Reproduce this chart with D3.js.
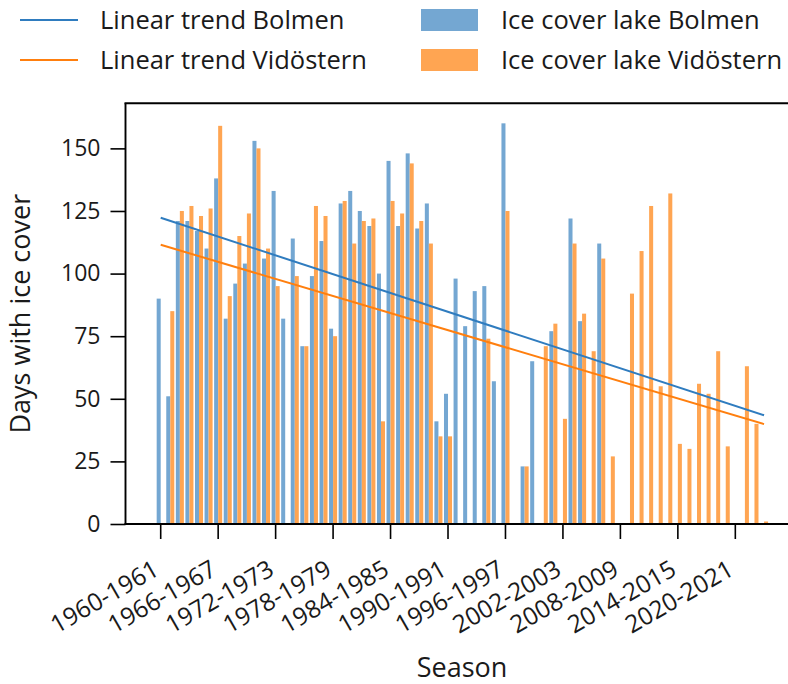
<!DOCTYPE html>
<html>
<head>
<meta charset="utf-8">
<script src="https://cdn.jsdelivr.net/npm/d3@7"></script>
<style>
  html, body { margin: 0; padding: 0; background: #fff; }
  svg { display: block; }
  text { font-family: "Open Sans", "Noto Sans", sans-serif; fill: #1a1a1a; }
</style>
</head>
<body>
<svg id="chart" width="788" height="684"></svg>
<script>
// Ice-cover seasons, 1960-1961 through 2023-2024
const seasons = d3.range(1960, 2024).map(y => `${y}-${y + 1}`);

// Days with ice cover per season (null = no observation)
const bolmen = [
  90, 51, 121, 121, 117, 110, 138, 82, 96, 104,
  153, 106, 133, 82, 114, 71, 99, 113, 78, 128,
  133, 125, 119, 100, 145, 119, 148, 118, 128, 41,
  52, 98, 79, 93, 95, 57, 160, null, 23, 65,
  null, 77, null, 122, 81, null, 112, null, null, null,
  null, null, null, null, null, null, null, null, null, null,
  null, null, null, null
];
const vidostern = [
  null, 85, 125, 127, 123, 126, 159, 91, 115, 124,
  150, 110, 95, null, 99, 71, 127, 123, 75, 129,
  112, 121, 122, 41, 129, 124, 144, 121, 112, 35,
  35, null, null, null, 74, null, 125, null, 23, null,
  71, 80, 42, 112, 84, 69, 106, 27, null, 92,
  109, 127, 55, 132, 32, 30, 56, 52, 69, 31,
  null, 63, 40, 1
];

// Linear trend values at the first and last season
const trendBolmen = [122.3, 43.4];
const trendVidostern = [111.5, 39.9];

const yTicks = [0, 25, 50, 75, 100, 125, 150];
const xTickSeasons = seasons.filter((s, i) => i % 6 === 0 && i <= 60);

const colors = {
  bolmenBar: "#74a7d2",
  vidosternBar: "#ffa552",
  bolmenLine: "#2f7cbf",
  vidosternLine: "#ff7f0e"
};

const svg = d3.select("#chart");
const plot = { left: 125.5, right: 798.5, top: 103.3, bottom: 524 };
const step = 9.577;
const firstCenter = 160.7;

const x = d3.scaleBand()
  .domain(seasons)
  .range([firstCenter - step / 2, firstCenter - step / 2 + step * seasons.length])
  .padding(0);
const y = d3.scaleLinear().domain([0, 168]).range([plot.bottom, plot.top]);
const center = s => x(s) + x.bandwidth() / 2;
const barW = x.bandwidth() * 0.42;

// Bars
const g = svg.append("g");
g.selectAll("rect.bolmen")
  .data(seasons.map((s, i) => ({ s, v: bolmen[i] })).filter(d => d.v != null))
  .join("rect")
  .attr("class", "bolmen")
  .attr("x", d => center(d.s) - barW)
  .attr("width", barW)
  .attr("y", d => y(d.v))
  .attr("height", d => y(0) - y(d.v))
  .attr("fill", colors.bolmenBar);

g.selectAll("rect.vidostern")
  .data(seasons.map((s, i) => ({ s, v: vidostern[i] })).filter(d => d.v != null))
  .join("rect")
  .attr("class", "vidostern")
  .attr("x", d => center(d.s))
  .attr("width", barW)
  .attr("y", d => y(d.v))
  .attr("height", d => y(0) - y(d.v))
  .attr("fill", colors.vidosternBar);

// Trend lines
const ends = [seasons[0], seasons[seasons.length - 1]];
const line = d3.line().x(d => center(d[0])).y(d => y(d[1]));
svg.append("path")
  .attr("d", line(ends.map((s, i) => [s, trendBolmen[i]])))
  .attr("stroke", colors.bolmenLine).attr("stroke-width", 2).attr("fill", "none");
svg.append("path")
  .attr("d", line(ends.map((s, i) => [s, trendVidostern[i]])))
  .attr("stroke", colors.vidosternLine).attr("stroke-width", 2).attr("fill", "none");

// Y axis
const yAxis = svg.append("g")
  .attr("transform", `translate(${plot.left},0)`)
  .call(d3.axisLeft(y).tickValues(yTicks).tickSize(15).tickPadding(10).tickSizeOuter(0));
yAxis.select(".domain").remove();
yAxis.selectAll(".tick line").attr("stroke", "#000").attr("stroke-width", 1.6);
yAxis.selectAll(".tick text").attr("font-size", 23).attr("fill", "#1a1a1a")
  .attr("font-family", "Open Sans");

// X axis
const xAxis = svg.append("g")
  .attr("transform", `translate(0,${plot.bottom})`)
  .call(d3.axisBottom(x).tickValues(xTickSeasons).tickSize(15).tickSizeOuter(0));
xAxis.select(".domain").remove();
xAxis.selectAll(".tick line").attr("stroke", "#000").attr("stroke-width", 1.6);
xAxis.selectAll(".tick text")
  .attr("font-size", 24.5).attr("fill", "#1a1a1a").attr("font-family", "Open Sans")
  .attr("text-anchor", "end")
  .attr("dy", null)
  .attr("y", null)
  .attr("transform", "translate(0,50) rotate(-30)");

// Spines
const spine = (x1, y1, x2, y2) => svg.append("line")
  .attr("x1", x1).attr("y1", y1).attr("x2", x2).attr("y2", y2)
  .attr("stroke", "#000").attr("stroke-width", 1.9);
spine(plot.left, plot.top, plot.left, plot.bottom);
spine(plot.left - 1, plot.top, plot.right, plot.top);
spine(plot.left - 1, plot.bottom, plot.right, plot.bottom);

// Axis titles
svg.append("text")
  .attr("transform", `translate(30,${(plot.top + plot.bottom) / 2}) rotate(-90)`)
  .attr("text-anchor", "middle")
  .attr("font-size", 27)
  .text("Days with ice cover");
svg.append("text")
  .attr("x", (plot.left + plot.right) / 2)
  .attr("y", 677)
  .attr("text-anchor", "middle")
  .attr("font-size", 27)
  .text("Season");

// Legend
const legend = svg.append("g");
const legendRows = [
  { kind: "line", color: colors.bolmenLine, label: "Linear trend Bolmen", col: 0, row: 0 },
  { kind: "line", color: colors.vidosternLine, label: "Linear trend Vidöstern", col: 0, row: 1 },
  { kind: "patch", color: colors.bolmenBar, label: "Ice cover lake Bolmen", col: 1, row: 0 },
  { kind: "patch", color: colors.vidosternBar, label: "Ice cover lake Vidöstern", col: 1, row: 1 }
];
const colX = [20, 421];
const rowY = [20, 60];
legendRows.forEach(d => {
  const lx = colX[d.col], ly = rowY[d.row];
  if (d.kind === "line") {
    legend.append("line")
      .attr("x1", lx).attr("x2", lx + 58).attr("y1", ly).attr("y2", ly)
      .attr("stroke", d.color).attr("stroke-width", 2);
  } else {
    legend.append("rect")
      .attr("x", lx).attr("y", ly - 11).attr("width", 57).attr("height", 22)
      .attr("fill", d.color);
  }
  legend.append("text")
    .attr("x", lx + 80).attr("y", ly)
    .attr("dy", "0.35em")
    .attr("font-size", 25.5)
    .text(d.label);
});
</script>
</body>
</html>
